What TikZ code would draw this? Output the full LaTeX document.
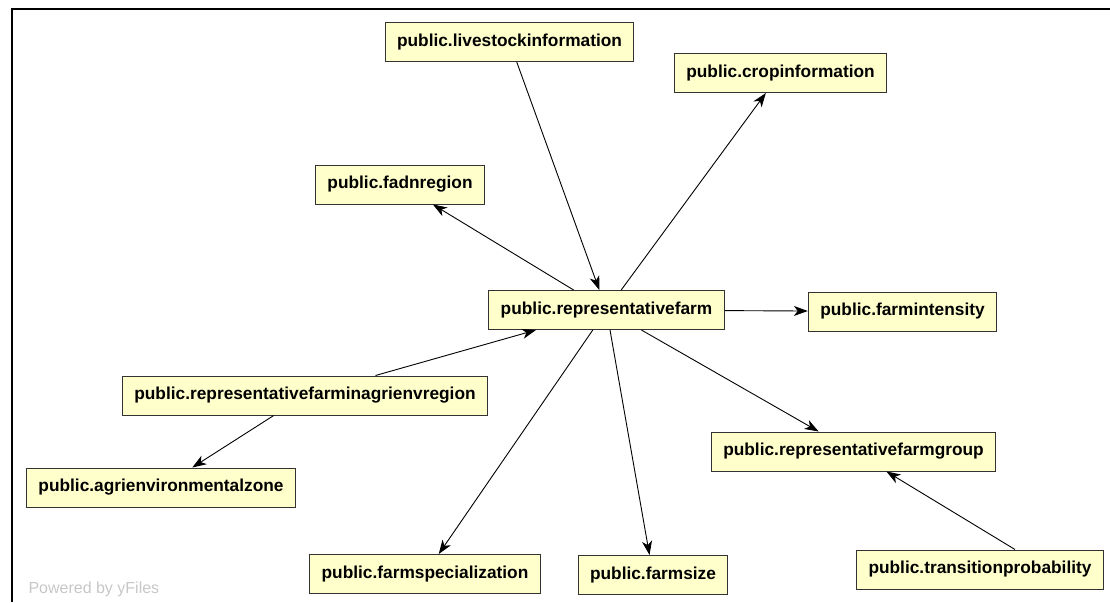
\documentclass[tikz,border=0pt]{standalone}
\usepackage{xcolor}
\usepackage{fontspec}
\setmainfont{Liberation Sans}
\usepackage{tikz}
\usetikzlibrary{shapes,arrows.meta}

\definecolor{tblfill}{HTML}{FFFFCC}
\definecolor{tblline}{HTML}{333333}

\begin{document}
\begin{tikzpicture}[x=1pt, y=-1pt,
  tbl/.style={rectangle, draw=tblline, line width=1pt, fill=tblfill, inner xsep=12pt, inner ysep=0pt,
    minimum height=39pt, font=\fontsize{17.3}{20}\selectfont\bfseries},
  link/.style={-{Stealth[length=14pt,width=10pt,inset=4pt]}, line width=0.9pt}]
\useasboundingbox (0,0) rectangle (1110,602);
\draw [line width=2.5pt] (12,602) -- (12,9) -- (1110,9);

\node (livestock) [tbl] at (509.5,42) {public.livestockinformation};
\node (crop) [tbl] at (780.5,73) {public.cropinformation};
\node (fadn) [tbl] at (400,184.5) {public.fadnregion};
\node (farm) [tbl] at (606.5,310) {public.representativefarm};
\node (intensity) [tbl] at (902.5,311.5) {public.farmintensity};
\node (agrireg) [tbl] at (305,395.5) {public.representativefarminagrienvregion};
\node (zone) [tbl] at (161,487.5) {public.agrienvironmentalzone};
\node (group) [tbl] at (853.5,451.5) {public.representativefarmgroup};
\node (special) [tbl] at (425,574) {public.farmspecialization};
\node (size) [tbl] at (653,575) {public.farmsize};
\node (transit) [tbl] at (980,569.5) {public.transitionprobability};
\node (yfiles) [anchor=west, text=black!22, font=\fontsize{16}{18}\selectfont] at (25,589) {Powered by yFiles};

\draw [link] (livestock) -- (farm);
\draw [link] (farm) -- (crop);
\draw [link] (farm) -- (fadn);
\draw [link] (farm) -- (intensity);
\draw [link] (agrireg) -- (farm);
\draw [link] (agrireg) -- (zone);
\draw [link] (farm) -- (special);
\draw [link] (farm) -- (size);
\draw [link] (farm) -- (group);
\draw [link] ([xshift=35pt]transit.north) -- (group);
\end{tikzpicture}
\end{document}
